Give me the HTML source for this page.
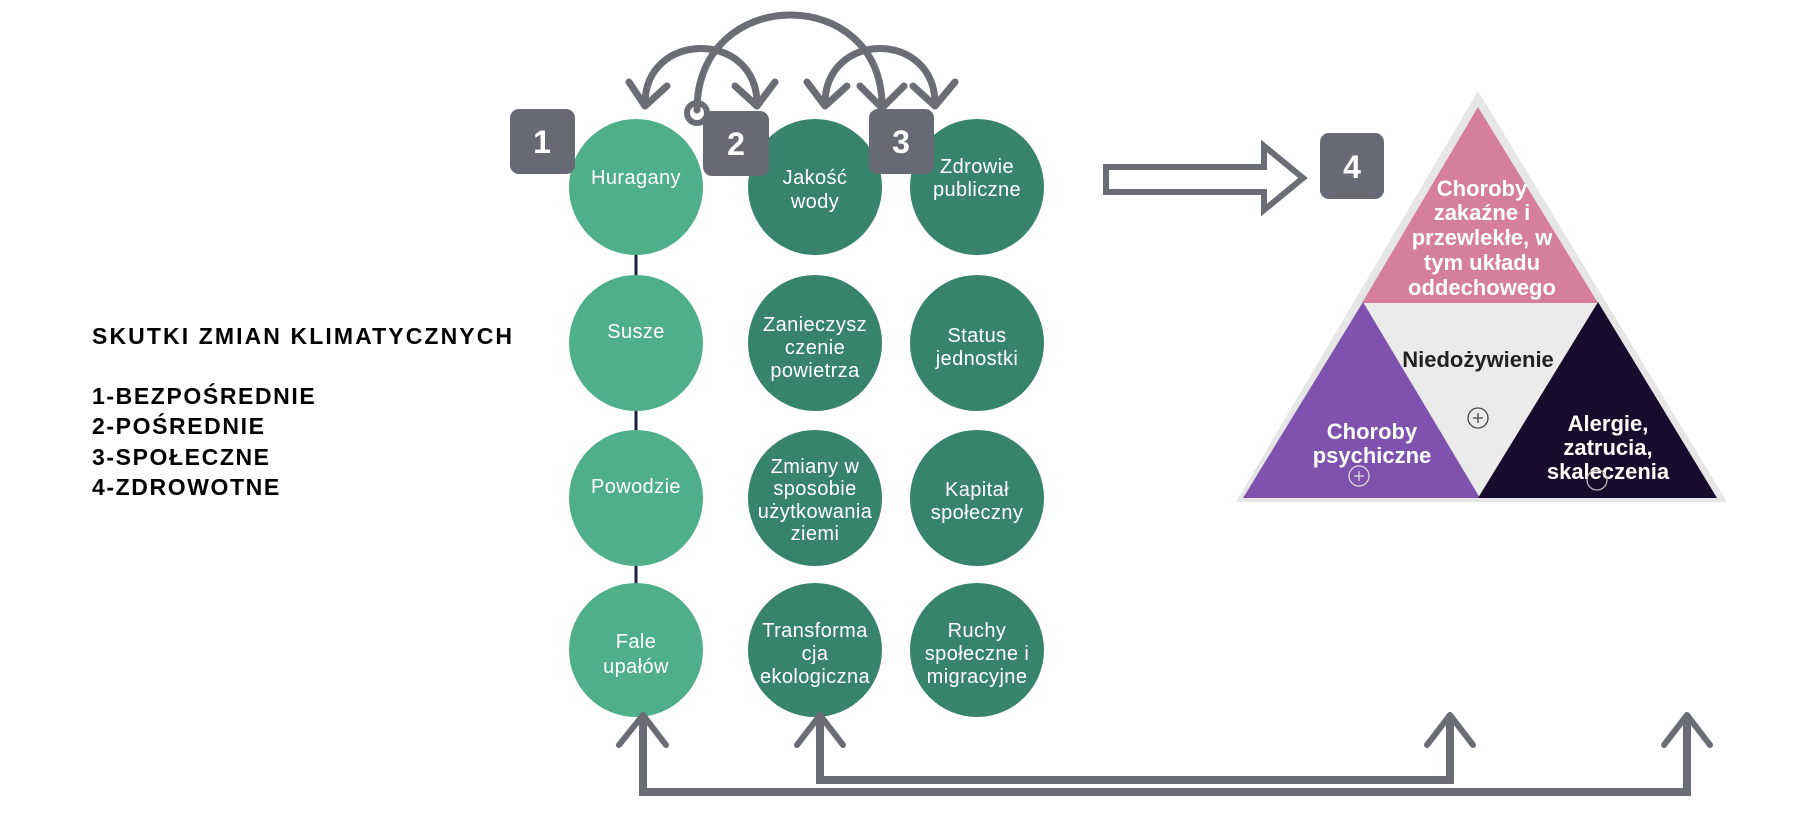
<!DOCTYPE html>
<html><head><meta charset="utf-8"><style>
html,body{margin:0;padding:0;background:#fff;}
svg{display:block;}
</style></head><body>
<svg width="1804" height="828" viewBox="0 0 1804 828" xmlns="http://www.w3.org/2000/svg" font-family="Liberation Sans, sans-serif">
<!-- left text -->
<g font-weight="bold" font-size="23" fill="#000" letter-spacing="1.6">
<text x="92" y="344" letter-spacing="2.1">SKUTKI ZMIAN KLIMATYCZNYCH</text>
<text x="92" y="404">1-BEZPOŚREDNIE</text>
<text x="92" y="434">2-POŚREDNIE</text>
<text x="92" y="465">3-SPOŁECZNE</text>
<text x="92" y="495">4-ZDROWOTNE</text>
</g>
<!-- connector col1 -->
<line x1="636" y1="250" x2="636" y2="600" stroke="#1c1f3a" stroke-width="3"/>
<!-- circles -->
<g>
<ellipse cx="636" cy="187" rx="67" ry="68" fill="#4faf8a"/>
<ellipse cx="636" cy="343" rx="67" ry="68" fill="#4faf8a"/>
<ellipse cx="636" cy="498" rx="67" ry="68" fill="#4faf8a"/>
<ellipse cx="636" cy="650" rx="67" ry="67" fill="#4faf8a"/>
<ellipse cx="815" cy="187" rx="67" ry="68" fill="#37836c"/>
<ellipse cx="815" cy="343" rx="67" ry="68" fill="#37836c"/>
<ellipse cx="815" cy="498" rx="67" ry="68" fill="#37836c"/>
<ellipse cx="815" cy="650" rx="67" ry="67" fill="#37836c"/>
<ellipse cx="977" cy="187" rx="67" ry="68" fill="#37836c"/>
<ellipse cx="977" cy="343" rx="67" ry="68" fill="#37836c"/>
<ellipse cx="977" cy="498" rx="67" ry="68" fill="#37836c"/>
<ellipse cx="977" cy="650" rx="67" ry="67" fill="#37836c"/>
</g>
<g fill="#fff" font-size="20" text-anchor="middle" letter-spacing="0.4">
<text x="636" y="184">Huragany</text>
<text x="636" y="338">Susze</text>
<text x="636" y="493">Powodzie</text>
<text x="636" y="648">Fale</text><text x="636" y="673">upałów</text>
<text x="815" y="184">Jakość</text><text x="815" y="208">wody</text>
<text x="815" y="331">Zanieczysz</text><text x="815" y="354">czenie</text><text x="815" y="377">powietrza</text>
<text x="815" y="473">Zmiany w</text><text x="815" y="495">sposobie</text><text x="815" y="518">użytkowania</text><text x="815" y="540">ziemi</text>
<text x="815" y="637">Transforma</text><text x="815" y="660">cja</text><text x="815" y="683">ekologiczna</text>
<text x="977" y="173">Zdrowie</text><text x="977" y="196">publiczne</text>
<text x="977" y="342">Status</text><text x="977" y="365">jednostki</text>
<text x="977" y="496">Kapitał</text><text x="977" y="519">społeczny</text>
<text x="977" y="637">Ruchy</text><text x="977" y="660">społeczne i</text><text x="977" y="683">migracyjne</text>
</g>
<!-- top arcs -->
<g fill="none" stroke="#6b6d75" stroke-width="7" stroke-linecap="round" stroke-linejoin="round">
<path d="M645 104 C645 30 757 30 757 104"/>
<path d="M629 82 L645 106 L667 86"/>
<path d="M735 86 L757 106 L775 82"/>
<path d="M697 110 C697 -16 882 -16 882 106"/>
<path d="M860 86 L882 108 L904 86"/>
<path d="M825 104 C825 30 935 30 935 104"/>
<path d="M807 82 L825 106 L847 86"/>
<path d="M913 86 L935 106 L955 82"/>
</g>
<circle cx="697" cy="113" r="10" fill="none" stroke="#6b6d75" stroke-width="6"/>
<!-- badges -->
<g fill="#676a73">
<rect x="510" y="109" width="65" height="65" rx="9"/>
<rect x="703" y="111" width="66" height="65" rx="9"/>
<rect x="869" y="109" width="65" height="65" rx="9"/>
<rect x="1320" y="133" width="64" height="66" rx="9"/>
</g>
<g fill="#fff" font-size="32" font-weight="bold" text-anchor="middle">
<text x="542" y="153">1</text>
<text x="736" y="155">2</text>
<text x="901" y="153">3</text>
<text x="1352" y="178">4</text>
</g>
<!-- block arrow -->
<path d="M1106 167 L1264 167 L1264 146 L1303 178 L1264 210 L1264 192 L1106 192 Z" fill="#fff" stroke="#6b6d75" stroke-width="6" stroke-linejoin="miter"/>
<!-- triangle -->
<polygon points="1478,91 1727,502 1236,502" fill="#e6e6e6"/>
<polygon points="1478,107 1598,303 1362,303" fill="#d67f9c"/>
<polygon points="1362,303 1598,303 1478,498" fill="#ebebeb"/>
<polygon points="1363,302 1480,498 1243,498" fill="#7f52ad"/>
<polygon points="1598,302 1717,498 1478,498" fill="#170c2b"/>
<g fill="#fff" font-size="22" font-weight="bold" text-anchor="middle">
<text x="1482" y="196">Choroby</text>
<text x="1482" y="220">zakaźne i</text>
<text x="1482" y="245">przewlekłe, w</text>
<text x="1482" y="270">tym układu</text>
<text x="1482" y="295">oddechowego</text>
<text x="1372" y="439">Choroby</text>
<text x="1372" y="463">psychiczne</text>
<text x="1608" y="431">Alergie,</text>
<text x="1608" y="455">zatrucia,</text>
<text x="1608" y="479">skaleczenia</text>
</g>
<text x="1478" y="367" font-size="22" font-weight="bold" text-anchor="middle" fill="#222">Niedożywienie</text>
<g fill="none" stroke-width="1.3">
<circle cx="1478" cy="418" r="10" stroke="#444"/>
<path d="M1473 418h10M1478 413v10" stroke="#444"/>
<circle cx="1359" cy="476" r="10" stroke="#ddd"/>
<path d="M1354 476h10M1359 471v10" stroke="#ddd"/>
<circle cx="1597" cy="480" r="10" stroke="#bbb"/>
</g>
<!-- bottom arrows -->
<g fill="none" stroke="#6b6d75" stroke-width="8" stroke-linejoin="miter">
<path d="M643 716 L643 792 L1687 792 L1687 716"/>
<path d="M820 716 L820 780 L1450 780 L1450 716"/>
</g>
<g fill="none" stroke="#6b6d75" stroke-width="6" stroke-linecap="round" stroke-linejoin="round">
<path d="M619 745 L643 715 L666 745"/>
<path d="M797 745 L820 715 L843 745"/>
<path d="M1427 745 L1450 715 L1473 745"/>
<path d="M1664 745 L1687 715 L1710 745"/>
</g>
</svg>
</body></html>
